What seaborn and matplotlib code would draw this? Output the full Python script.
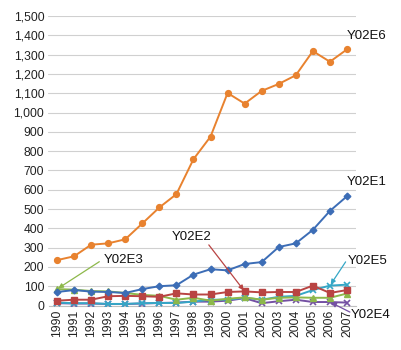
import matplotlib
matplotlib.use("Agg")
import matplotlib.pyplot as plt
import matplotlib.ticker as mticker
import seaborn as sns
import pandas as pd

years = list(range(1990, 2008))
y02e6 = [235, 255, 315, 322, 343, 425, 508, 577, 758, 875, 1101, 1046, 1112, 1148, 1193, 1318, 1263, 1327]
y02e1 = [70, 80, 72, 70, 65, 85, 100, 105, 160, 188, 182, 215, 225, 303, 322, 392, 490, 566]
y02e2 = [25, 30, 30, 48, 50, 48, 45, 63, 57, 57, 70, 73, 68, 70, 70, 103, 65, 80]
y02e3 = [85, 82, 75, 73, 65, 55, 50, 30, 40, 25, 35, 42, 30, 40, 42, 40, 40, 62]
y02e5 = [15, 12, 12, 8, 8, 12, 13, 13, 20, 30, 30, 40, 30, 45, 50, 80, 103, 108]
y02e4 = [12, 10, 10, 8, 8, 10, 13, 15, 20, 20, 25, 38, 12, 22, 30, 18, 18, 15]
names = ["Y02E6", "Y02E1", "Y02E2", "Y02E3", "Y02E5", "Y02E4"]
series = [y02e6, y02e1, y02e2, y02e3, y02e5, y02e4]
colors = ["#E8822F", "#3C6DB6", "#B94443", "#8DB84A", "#35A7C6", "#7450A3"]
markers = ["o", "D", "s", "^", "x", "x"]
sizes = [4.2, 3.4, 4.2, 4.5, 4.2, 4.2]

sns.set_theme(style="white")
plt.rcParams['font.family'] = ['Liberation Sans', 'DejaVu Sans']

fig = plt.figure(figsize=(4.02, 3.5), dpi=100)
ax = fig.add_axes([48.5/402, 1-305.5/350, 307/402, (305.5-16)/350])

order = [5, 4, 3, 2, 1, 0]
for i in order:
    df = pd.DataFrame({"year": years, "value": series[i]})
    sns.lineplot(data=df, x="year", y="value", ax=ax, color=colors[i],
                 marker=markers[i], markersize=sizes[i], lw=1.4,
                 markeredgecolor=colors[i], markeredgewidth=1.0 if markers[i] != "x" else 1.2,
                 zorder=3)

ax.set_xlim(1989.5, 2007.5)
ax.set_ylim(0, 1500)
ax.set_yticks(range(0, 1501, 100))
ax.yaxis.set_major_formatter(mticker.FuncFormatter(lambda v, p: f"{int(v):,}"))
ax.set_xticks(years)
ax.set_xticklabels([str(y) for y in years], rotation=90)
ax.tick_params(axis='both', labelsize=8.7, colors="#222222", length=0, pad=3)
ax.set_xlabel("")
ax.set_ylabel("")
ax.grid(axis='y', color="#D0D0D0", lw=0.8)
ax.set_axisbelow(True)
for s in ["top", "right", "left"]:
    ax.spines[s].set_visible(False)
ax.spines["bottom"].set_color("#BFBFBF")
ax.spines["bottom"].set_linewidth(0.8)

fs = 9.5
def label(text, tx, ty, color, idx=None, sx=None, sy=None):
    ax.text(tx, ty, text, fontsize=fs, color="#111111", ha="left", va="center", clip_on=False)
    if idx is not None:
        ax.annotate("", xy=(years[idx], series[names.index(text)][idx]), xytext=(sx, sy),
                    arrowprops=dict(arrowstyle="-|>", color=color, lw=0.9,
                                    mutation_scale=7, shrinkA=0, shrinkB=1),
                    annotation_clip=False)

label("Y02E6", 2006.98, 1395, colors[0])
label("Y02E1", 2006.98, 642, colors[1])
label("Y02E2", 1996.72, 357, colors[2], 11, 1998.9, 314)
label("Y02E3", 1992.75, 236, colors[3], 0, 1992.48, 227)
label("Y02E5", 2007.07, 232, colors[4], 16, 2006.92, 226)
label("Y02E4", 2007.2, -49, colors[5], 16, 2007.17, -34)

fig.savefig("out.png", dpi=100)
